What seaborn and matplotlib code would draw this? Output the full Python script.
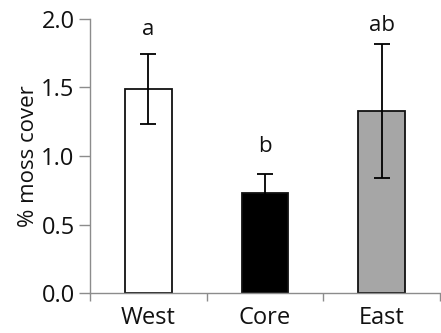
import matplotlib
matplotlib.use("Agg")
import matplotlib.pyplot as plt
import seaborn as sns
import pandas as pd
import numpy as np

categories = ["West", "Core", "East"]
means = [1.49, 0.73, 1.33]
errors = [0.255, 0.14, 0.49]
letters = ["a", "b", "ab"]
letter_y = [1.92, 1.07, 1.95]
colors = ["#ffffff", "#000000", "#a6a6a6"]

sns.set_style("white")
plt.rcParams['font.family'] = ['Open Sans', 'DejaVu Sans']

df = pd.DataFrame({"site": categories, "cover": means})

fig = plt.figure(figsize=(4.41, 3.33), dpi=100)
ax = fig.add_axes([0.204, 0.12, 0.794, 0.823])

sns.barplot(data=df, x="site", y="cover", hue="site", palette=colors,
            order=categories, width=0.40, edgecolor="#111111", linewidth=1.3,
            legend=False, ax=ax, errorbar=None)

ax.errorbar(np.arange(len(categories)), means, yerr=errors, fmt="none",
            ecolor="#000000", elinewidth=1.3, capsize=6, capthick=1.3, zorder=5)

for i, (t, yy) in enumerate(zip(letters, letter_y)):
    ax.text(i, yy, t, ha="center", va="center", fontsize=16, color="#111111")

ax.set_xlim(-0.5, 2.5)
ax.set_ylim(0, 2.0)
ax.set_yticks([0, 0.5, 1.0, 1.5, 2.0])
ax.set_yticklabels(["0.0", "0.5", "1.0", "1.5", "2.0"])
ax.set_xlabel("")
ax.set_ylabel("% moss cover", fontsize=16, color="#111111", labelpad=2)

for s in ["top", "right"]:
    ax.spines[s].set_visible(False)
for s in ["left", "bottom"]:
    ax.spines[s].set_color("#8c8c8c")
    ax.spines[s].set_linewidth(1.0)

ax.tick_params(axis="y", direction="out", length=8, width=1.0, color="#8c8c8c",
               labelsize=17, labelcolor="#111111", pad=3, left=True)
ax.tick_params(axis="x", which="major", length=0, labelsize=17,
               labelcolor="#111111", pad=9)
ax.set_xticks([-0.5, 0.5, 1.5, 2.5], minor=True)
ax.tick_params(axis="x", which="minor", direction="out", length=6, width=1.0,
               color="#8c8c8c", bottom=True)

fig.savefig("out.png", dpi=100)
